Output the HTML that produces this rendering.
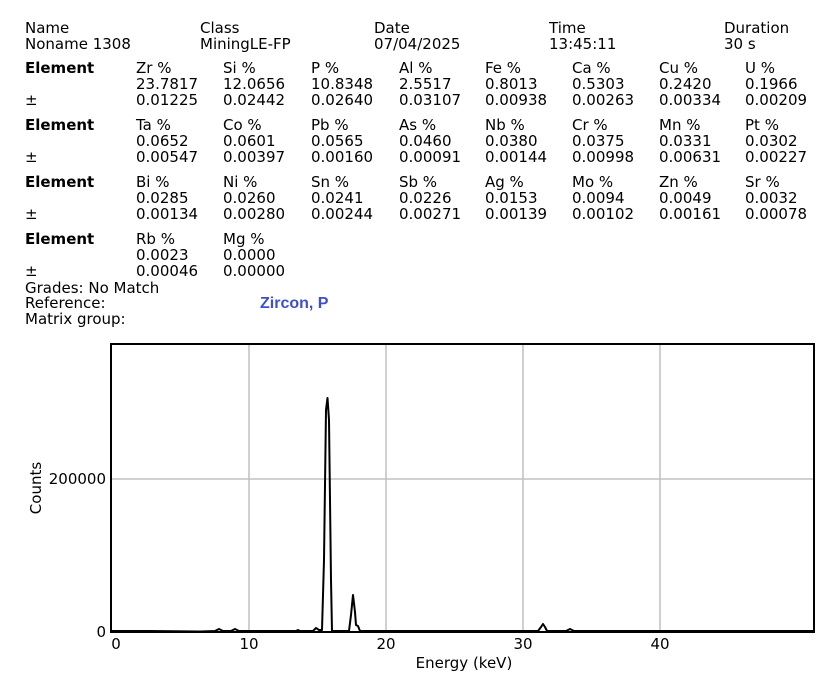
<!DOCTYPE html>
<html><head><meta charset="utf-8"><style>
html,body{margin:0;padding:0;background:#fff;}
svg{display:block;font-family:"DejaVu Sans","Liberation Sans",sans-serif;}
</style></head><body>
<svg width="835" height="681" viewBox="0 0 835 681" xmlns="http://www.w3.org/2000/svg">
<g font-size="15" fill="#000">
<text x="25" y="33">Name</text><text x="25" y="49">Noname 1308</text>
<text x="200" y="33">Class</text><text x="200" y="49">MiningLE-FP</text>
<text x="374" y="33">Date</text><text x="374" y="49">07/04/2025</text>
<text x="549" y="33">Time</text><text x="549" y="49">13:45:11</text>
<text x="724" y="33">Duration</text><text x="724" y="49">30 s</text>

<text x="25" y="73" font-weight="bold">Element</text><text x="25" y="105">±</text>
<text x="136" y="73">Zr %</text><text x="136" y="89">23.7817</text><text x="136" y="105">0.01225</text>
<text x="223" y="73">Si %</text><text x="223" y="89">12.0656</text><text x="223" y="105">0.02442</text>
<text x="311" y="73">P %</text><text x="311" y="89">10.8348</text><text x="311" y="105">0.02640</text>
<text x="399" y="73">Al %</text><text x="399" y="89">2.5517</text><text x="399" y="105">0.03107</text>
<text x="485" y="73">Fe %</text><text x="485" y="89">0.8013</text><text x="485" y="105">0.00938</text>
<text x="572" y="73">Ca %</text><text x="572" y="89">0.5303</text><text x="572" y="105">0.00263</text>
<text x="659" y="73">Cu %</text><text x="659" y="89">0.2420</text><text x="659" y="105">0.00334</text>
<text x="745" y="73">U %</text><text x="745" y="89">0.1966</text><text x="745" y="105">0.00209</text>

<text x="25" y="130" font-weight="bold">Element</text><text x="25" y="162">±</text>
<text x="136" y="130">Ta %</text><text x="136" y="146">0.0652</text><text x="136" y="162">0.00547</text>
<text x="223" y="130">Co %</text><text x="223" y="146">0.0601</text><text x="223" y="162">0.00397</text>
<text x="311" y="130">Pb %</text><text x="311" y="146">0.0565</text><text x="311" y="162">0.00160</text>
<text x="399" y="130">As %</text><text x="399" y="146">0.0460</text><text x="399" y="162">0.00091</text>
<text x="485" y="130">Nb %</text><text x="485" y="146">0.0380</text><text x="485" y="162">0.00144</text>
<text x="572" y="130">Cr %</text><text x="572" y="146">0.0375</text><text x="572" y="162">0.00998</text>
<text x="659" y="130">Mn %</text><text x="659" y="146">0.0331</text><text x="659" y="162">0.00631</text>
<text x="745" y="130">Pt %</text><text x="745" y="146">0.0302</text><text x="745" y="162">0.00227</text>

<text x="25" y="187" font-weight="bold">Element</text><text x="25" y="219">±</text>
<text x="136" y="187">Bi %</text><text x="136" y="203">0.0285</text><text x="136" y="219">0.00134</text>
<text x="223" y="187">Ni %</text><text x="223" y="203">0.0260</text><text x="223" y="219">0.00280</text>
<text x="311" y="187">Sn %</text><text x="311" y="203">0.0241</text><text x="311" y="219">0.00244</text>
<text x="399" y="187">Sb %</text><text x="399" y="203">0.0226</text><text x="399" y="219">0.00271</text>
<text x="485" y="187">Ag %</text><text x="485" y="203">0.0153</text><text x="485" y="219">0.00139</text>
<text x="572" y="187">Mo %</text><text x="572" y="203">0.0094</text><text x="572" y="219">0.00102</text>
<text x="659" y="187">Zn %</text><text x="659" y="203">0.0049</text><text x="659" y="219">0.00161</text>
<text x="745" y="187">Sr %</text><text x="745" y="203">0.0032</text><text x="745" y="219">0.00078</text>

<text x="25" y="244" font-weight="bold">Element</text><text x="25" y="276">±</text>
<text x="136" y="244">Rb %</text><text x="136" y="260">0.0023</text><text x="136" y="276">0.00046</text>
<text x="223" y="244">Mg %</text><text x="223" y="260">0.0000</text><text x="223" y="276">0.00000</text>

<text x="25" y="293">Grades: No Match</text>
<text x="25" y="308">Reference:</text>
<text x="25" y="324">Matrix group:</text>
</g>
<text x="260" y="308" font-family="Liberation Sans,sans-serif" font-weight="bold" font-size="16" fill="#3d4fcf">Zircon, P</text>

<g stroke="#c0c0c0" stroke-width="1.5">
<line x1="249" y1="344" x2="249" y2="632"/>
<line x1="386" y1="344" x2="386" y2="632"/>
<line x1="523" y1="344" x2="523" y2="632"/>
<line x1="660" y1="344" x2="660" y2="632"/>
<line x1="111" y1="479" x2="814" y2="479"/>
</g>
<path fill="none" stroke="#000" stroke-width="2" stroke-linejoin="round" d="M112 631 L150 631 L200 631.5 L215 631 L219 629 L223 631 L231 631 L235 629 L239 631 L296 631 L298 630 L300 631 L313 631 L316 628 L319 630 L322 630 L324 560 L326 410 L327.5 398 L329 420 L331 580 L332 631 L349 631 L351 615 L353 595 L355 612 L356 625 L358 626 L360 631 L538 631 L541 627 L543 624 L545 627 L547 631 L566 631 L570 629 L574 631 L813 631"/>
<rect x="111" y="344" width="703" height="288" fill="none" stroke="#000" stroke-width="2"/>
<g font-size="15" fill="#000">
<text x="106" y="484" text-anchor="end">200000</text>
<text x="106" y="637" text-anchor="end">0</text>
<text x="116" y="649" text-anchor="middle">0</text>
<text x="249" y="649" text-anchor="middle">10</text>
<text x="386" y="649" text-anchor="middle">20</text>
<text x="523" y="649" text-anchor="middle">30</text>
<text x="660" y="649" text-anchor="middle">40</text>
<text x="464" y="668" text-anchor="middle">Energy (keV)</text>
<text transform="translate(41,488) rotate(-90)" text-anchor="middle">Counts</text>
</g>
</svg>
</body></html>
